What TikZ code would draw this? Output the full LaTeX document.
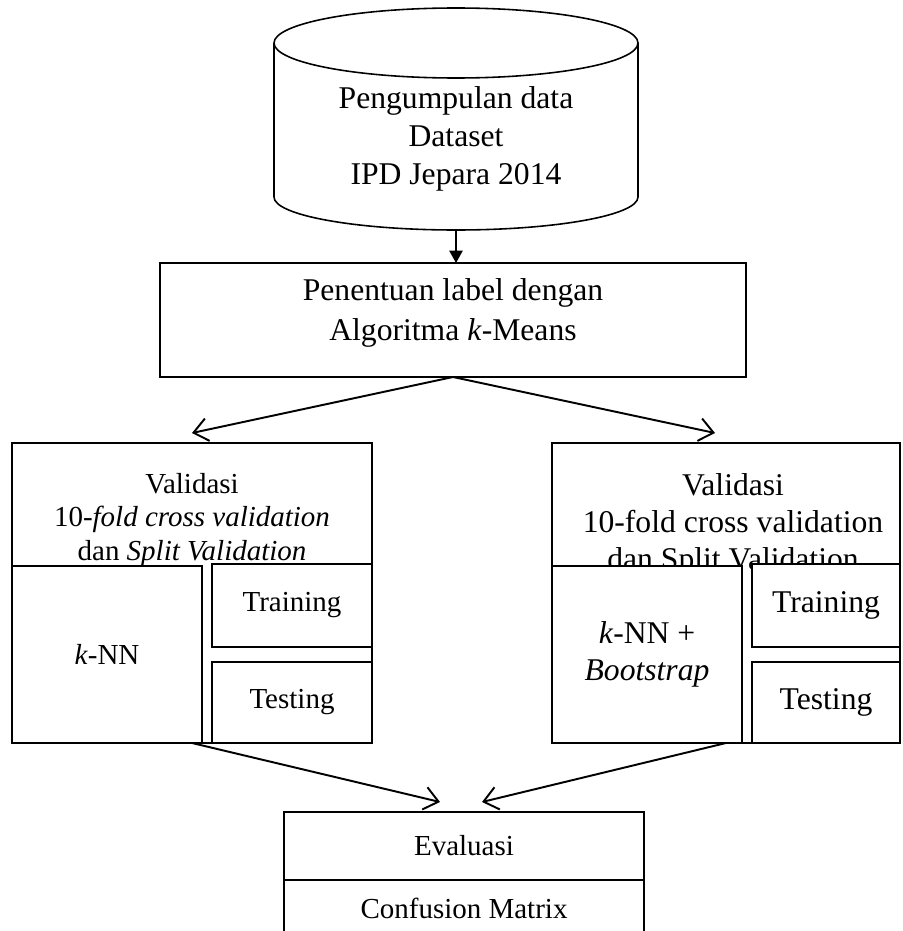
\documentclass[tikz,border=0pt]{standalone}
\usepackage{fontspec}
\setmainfont{Liberation Serif}
\usetikzlibrary{arrows.meta}

\begin{document}
\begin{tikzpicture}[
  box/.style={draw, line width=1pt, fill=white, inner sep=0pt, outer sep=0pt, align=center},
  flow/.style={line width=1.1pt, -{Straight Barb[length=8pt,width=13pt]}},
  txtL/.style={font=\fontsize{16.5}{18.8}\selectfont},
  txtR/.style={font=\fontsize{18}{21}\selectfont}
]
  \useasboundingbox (0,0) rectangle (18.04,-18.62);
  % data source
  \draw[line width=0.9pt] (5.48,-0.86) -- (5.48,-3.94) arc[start angle=180, end angle=360, x radius=3.64, y radius=0.66] -- (12.76,-0.86);
  \draw[line width=0.9pt] (9.12,-0.86) ellipse[x radius=3.64, y radius=0.70];
  \node[align=center, font=\fontsize{18}{21.6}\selectfont] (data) at (9.12,-2.77) {Pengumpulan data\\Dataset\\IPD Jepara 2014};
  \coordinate (dataout) at (9.12,-4.58);
  % labelling
  \node[box, minimum width=11.72cm, minimum height=2.28cm] (label) at (9.06,-6.40) {};
  \node[align=center, font=\fontsize{18}{22.8}\selectfont] (labeltext) at (9.06,-6.26) {Penentuan label dengan\\Algoritma \textit{k}-Means};
  % validation, k-NN
  \node[box, minimum width=7.20cm, minimum height=6.00cm] (valL) at (3.84,-11.86) {};
  \node[txtL, align=center] (valLtext) at (3.84,-10.40) {Validasi\\10-\textit{fold cross validation}\\dan \textit{Split Validation}};
  \node[box, txtL, minimum width=3.80cm, minimum height=3.54cm] (knnL) at (2.14,-13.09) {\textit{k}-NN};
  \node[box, txtL, minimum width=3.20cm, minimum height=1.66cm] (trainL) at (5.84,-12.11) {Training};
  \node[box, txtL, minimum width=3.20cm, minimum height=1.62cm] (testL) at (5.84,-14.05) {Testing};
  % validation, k-NN + bootstrap
  \node[box, minimum width=6.96cm, minimum height=6.00cm] (valR) at (14.52,-11.86) {};
  \node[txtR, align=center] (valRtext) at (14.66,-10.50) {Validasi\\10-fold cross validation\\dan Split Validation};
  \node[box, txtR, minimum width=3.80cm, minimum height=3.54cm] (knnR) at (12.94,-13.09) {\textit{k}-NN +\\\textit{Bootstrap}};
  \node[box, txtR, minimum width=2.96cm, minimum height=1.66cm] (trainR) at (16.52,-12.11) {Training};
  \node[box, txtR, minimum width=2.96cm, minimum height=1.62cm] (testR) at (16.52,-14.05) {Testing};
  % evaluation
  \node[box, txtL, minimum width=7.20cm, minimum height=1.36cm] (eval) at (9.28,-16.92) {Evaluasi};
  \node[box, txtL, minimum width=7.20cm, minimum height=1.12cm] (cm) at (9.28,-18.16) {Confusion Matrix};
  % arrows
  \draw[line width=1.1pt, -{Triangle[length=7pt,width=7.5pt]}] (dataout) -- (dataout |- label.north);
  \draw[flow] (label.south) -- ([yshift=0.2cm]valL.north);
  \draw[flow] (label.south) -- ([xshift=-0.22cm,yshift=0.2cm]valR.north);
  \draw[flow] (valL.south) -- ([xshift=-0.48cm,yshift=0.2cm]eval.north);
  \draw[flow] (valR.south) -- ([xshift=0.36cm,yshift=0.2cm]eval.north);
\end{tikzpicture}
\end{document}
